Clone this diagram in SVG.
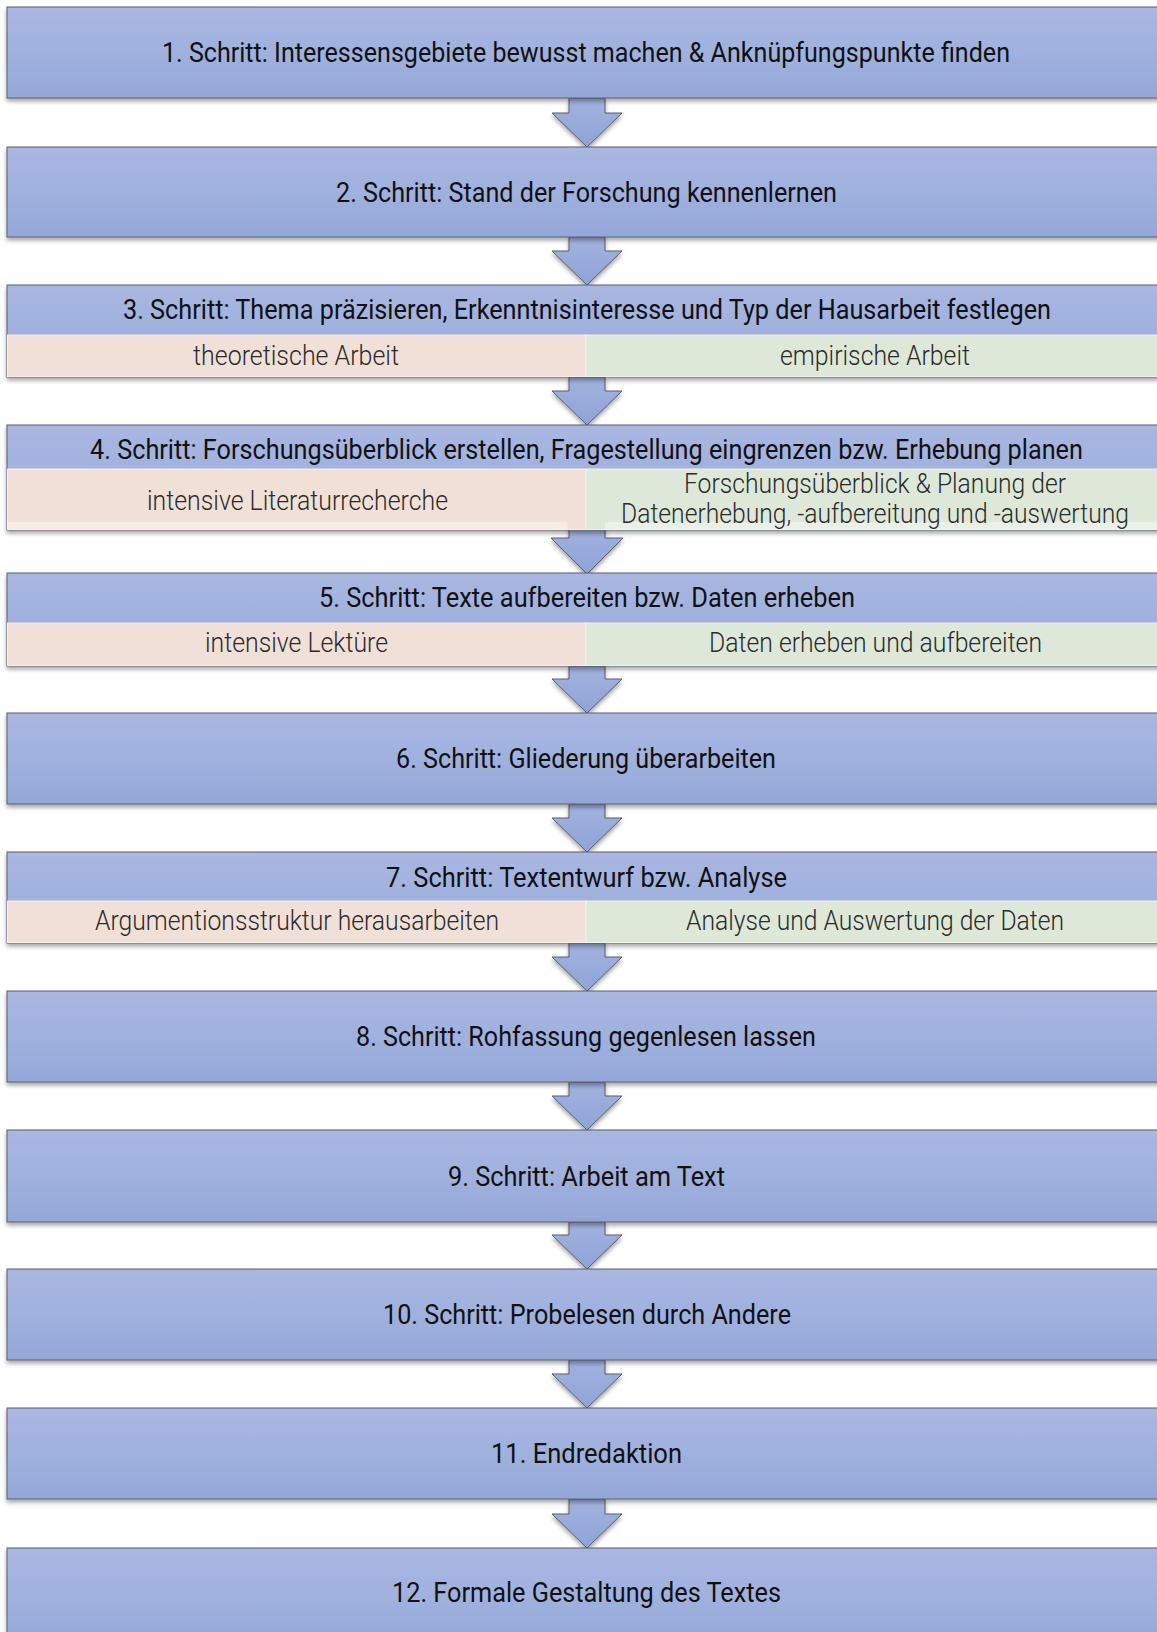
<svg xmlns="http://www.w3.org/2000/svg" width="1157" height="1632" viewBox="0 0 1157 1632">
<defs>
<linearGradient id="gBlue" x1="0" y1="0" x2="0" y2="1">
<stop offset="0" stop-color="#a9b7e1"/>
<stop offset="0.5" stop-color="#a0b1de"/>
<stop offset="1" stop-color="#93a7d8"/>
</linearGradient>
<linearGradient id="gArrow" x1="0" y1="0" x2="0" y2="1">
<stop offset="0" stop-color="#a3b3df"/>
<stop offset="1" stop-color="#8ea3d7"/>
</linearGradient>
<filter id="sh" x="-5%" y="-20%" width="110%" height="150%">
<feDropShadow dx="0" dy="3" stdDeviation="2" flood-color="#000" flood-opacity="0.35"/>
</filter>
</defs>
<style>
.box{fill:url(#gBlue);stroke:#5a5f6e;stroke-width:1;filter:url(#sh)}
.pk{fill:#f1e0d7;stroke:#f7eee9;stroke-width:1}
.gr{fill:#dde8d9;stroke:#eef4ec;stroke-width:1}
.arr{fill:url(#gArrow);stroke:#5a5f6e;stroke-width:1;filter:url(#sh)}
.t{font-family:Roboto,"Liberation Sans",sans-serif;font-size:28px;fill:#111;text-anchor:middle}
.s{font-family:Roboto,"Liberation Sans",sans-serif;font-weight:300;font-size:28px;fill:#2b2b2b;text-anchor:middle}
</style>
<rect width="1157" height="1632" fill="#ffffff"/>
<g id="connectors">
<polygon class="arr" points="569,98 605,98 605,113 622,113 587,147 552,113 569,113"/>
<polygon class="arr" points="569,237 605,237 605,251 622,251 587,285 552,251 569,251"/>
<polygon class="arr" points="569,377 605,377 605,391 622,391 587,425 552,391 569,391"/>
<polygon class="arr" points="569,522 605,522 605,538 623,538 587,574 551,538 569,538"/>
<polygon class="arr" points="569,666 605,666 605,679 622,679 587,713 552,679 569,679"/>
<polygon class="arr" points="569,804 605,804 605,818 622,818 587,852 552,818 569,818"/>
<polygon class="arr" points="569,943 605,943 605,957 622,957 587,991 552,957 569,957"/>
<polygon class="arr" points="569,1082 605,1082 605,1096 622,1096 587,1130 552,1096 569,1096"/>
<polygon class="arr" points="569,1222 605,1222 605,1235 622,1235 587,1269 552,1235 569,1235"/>
<polygon class="arr" points="569,1360 605,1360 605,1374 622,1374 587,1408 552,1374 569,1374"/>
<polygon class="arr" points="569,1499 605,1499 605,1514 622,1514 587,1548 552,1514 569,1514"/>
</g>
<g id="step1">
<rect class="box" x="7" y="7" width="1162" height="91"/>
<text class="t" x="586" y="62" textLength="848" lengthAdjust="spacingAndGlyphs">1. Schritt: Interessensgebiete bewusst machen &amp; Anknüpfungspunkte finden</text>
</g>
<g id="step2">
<rect class="box" x="7" y="147" width="1162" height="90"/>
<text class="t" x="586.5" y="201.5" textLength="501" lengthAdjust="spacingAndGlyphs">2. Schritt: Stand der Forschung kennenlernen</text>
</g>
<g id="step3">
<rect class="box" x="7" y="285" width="1162" height="92"/>
<rect class="pk" x="7.5" y="335" width="578.5" height="41.5"/>
<rect class="gr" x="586" y="335" width="583" height="41.5"/>
<text class="t" x="587" y="319" textLength="928" lengthAdjust="spacingAndGlyphs">3. Schritt: Thema präzisieren, Erkenntnisinteresse und Typ der Hausarbeit festlegen</text>
<text class="s" x="296" y="365" textLength="206" lengthAdjust="spacingAndGlyphs">theoretische Arbeit</text>
<text class="s" x="875" y="365" textLength="190" lengthAdjust="spacingAndGlyphs">empirische Arbeit</text>
</g>
<g id="step4">
<rect class="box" x="7" y="425" width="1162" height="105"/>
<rect class="pk" x="7.5" y="469" width="578.5" height="60.5"/>
<rect class="gr" x="586" y="469" width="583" height="60.5"/>
<rect x="7.5" y="522" width="560" height="8" fill="#ffffff" opacity="0.35"/>
<rect x="605" y="522" width="560" height="8" fill="#ffffff" opacity="0.35"/>
<text class="t" transform="translate(586.5,459) scale(0.8,1)" x="0" y="0" textLength="1241" lengthAdjust="spacingAndGlyphs">4. Schritt: Forschungsüberblick erstellen, Fragestellung eingrenzen bzw. Erhebung planen</text>
<text class="s" x="297.5" y="510" textLength="301" lengthAdjust="spacingAndGlyphs">intensive Literaturrecherche</text>
<text class="s" x="875" y="493" textLength="382" lengthAdjust="spacingAndGlyphs">Forschungsüberblick &amp; Planung der</text>
<text class="s" transform="translate(875,523) scale(0.8,1)" x="0" y="0" textLength="635" lengthAdjust="spacingAndGlyphs">Datenerhebung, -aufbereitung und -auswertung</text>
</g>
<g id="step5">
<rect class="box" x="7" y="573" width="1162" height="93"/>
<rect class="pk" x="7.5" y="623" width="578.5" height="42.5"/>
<rect class="gr" x="586" y="623" width="583" height="42.5"/>
<text class="t" x="587" y="607" textLength="536" lengthAdjust="spacingAndGlyphs">5. Schritt: Texte aufbereiten bzw. Daten erheben</text>
<text class="s" x="296.5" y="652" textLength="183" lengthAdjust="spacingAndGlyphs">intensive Lektüre</text>
<text class="s" x="875.5" y="652" textLength="333" lengthAdjust="spacingAndGlyphs">Daten erheben und aufbereiten</text>
</g>
<g id="step6">
<rect class="box" x="7" y="713" width="1162" height="91"/>
<text class="t" x="586" y="768" textLength="380" lengthAdjust="spacingAndGlyphs">6. Schritt: Gliederung überarbeiten</text>
</g>
<g id="step7">
<rect class="box" x="7" y="852" width="1162" height="91"/>
<rect class="pk" x="7.5" y="901" width="578.5" height="41.5"/>
<rect class="gr" x="586" y="901" width="583" height="41.5"/>
<text class="t" x="586.5" y="887" textLength="401" lengthAdjust="spacingAndGlyphs">7. Schritt: Textentwurf bzw. Analyse</text>
<text class="s" x="297" y="930" textLength="404" lengthAdjust="spacingAndGlyphs">Argumentionsstruktur herausarbeiten</text>
<text class="s" x="875" y="930" textLength="378" lengthAdjust="spacingAndGlyphs">Analyse und Auswertung der Daten</text>
</g>
<g id="step8">
<rect class="box" x="7" y="991" width="1162" height="91"/>
<text class="t" x="586" y="1046" textLength="460" lengthAdjust="spacingAndGlyphs">8. Schritt: Rohfassung gegenlesen lassen</text>
</g>
<g id="step9">
<rect class="box" x="7" y="1130" width="1162" height="92"/>
<text class="t" x="586.5" y="1185.5" textLength="277" lengthAdjust="spacingAndGlyphs">9. Schritt: Arbeit am Text</text>
</g>
<g id="step10">
<rect class="box" x="7" y="1269" width="1162" height="91"/>
<text class="t" x="587" y="1324" textLength="408" lengthAdjust="spacingAndGlyphs">10. Schritt: Probelesen durch Andere</text>
</g>
<g id="step11">
<rect class="box" x="7" y="1408" width="1162" height="91"/>
<text class="t" x="586.5" y="1463" textLength="191" lengthAdjust="spacingAndGlyphs">11. Endredaktion</text>
</g>
<g id="step12">
<rect class="box" x="7" y="1548" width="1162" height="100"/>
<text class="t" x="586.5" y="1602" textLength="389" lengthAdjust="spacingAndGlyphs">12. Formale Gestaltung des Textes</text>
</g>
</svg>
